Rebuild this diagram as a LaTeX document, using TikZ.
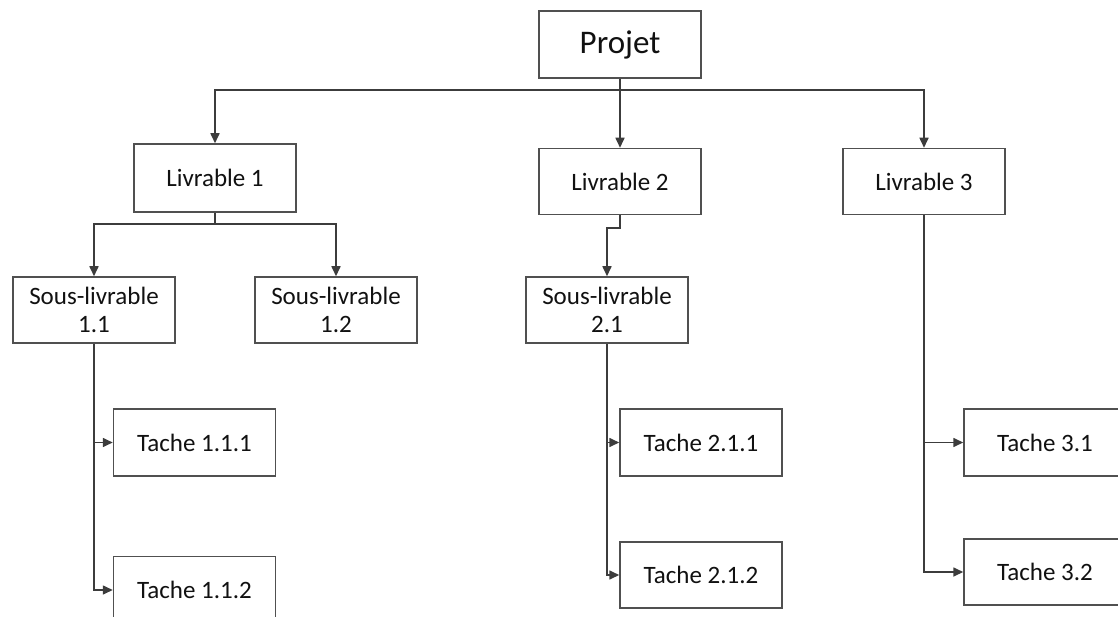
\documentclass[tikz,border=0pt]{standalone}
\usepackage{fontspec}
\setmainfont{Carlito}
\usetikzlibrary{arrows.meta}

\definecolor{edgegray}{HTML}{505050}
\definecolor{linegray}{HTML}{3C3C3C}
\definecolor{inkblack}{HTML}{111111}

\tikzset{
  box/.style={draw=edgegray, line width=1.5pt, fill=white, rectangle,
    minimum width=162pt, inner sep=0pt, text=inkblack,
    font=\fontsize{25}{28}\selectfont},
  topbox/.style={box, font=\fontsize{33}{36}\selectfont},
  wire/.style={draw=linegray, line width=1.6pt},
  link/.style={wire, -{Triangle[length=10pt,width=9pt]}}
}

\begin{document}
\begin{tikzpicture}[x=1pt, y=-1pt]
  \path[use as bounding box, clip] (0,0) rectangle (1118,617);
  \fill[white] (0,0) rectangle (1118,617);

  % root
  \node[topbox, minimum height=67pt] (proj) at (620,44.5) {Projet};

  % deliverables
  \node[box, minimum height=68pt] (liv1) at (215,178) {Livrable 1};
  \node[box, minimum height=66pt] (liv2) at (620,181.5) {Livrable 2};
  \node[box, minimum height=66pt] (liv3) at (924,181.5) {Livrable 3};

  % sub-deliverables
  \node[box, minimum height=66pt, align=center] (sl11) at (94,310) {Sous-livrable\\1.1};
  \node[box, minimum height=66pt, align=center] (sl12) at (336,310) {Sous-livrable\\1.2};
  \node[box, minimum height=66pt, align=center] (sl21) at (607,310) {Sous-livrable\\2.1};

  % tasks
  \node[box, minimum height=67pt] (t111) at (194.5,442.5) {Tache 1.1.1};
  \node[box, minimum height=67pt] (t112) at (194.5,590) {Tache 1.1.2};
  \node[box, minimum height=67pt] (t211) at (701,442.5) {Tache 2.1.1};
  \node[box, minimum height=66pt] (t212) at (701,575) {Tache 2.1.2};
  \node[box, minimum height=67pt] (t31) at (1045,442.5) {Tache 3.1};
  \node[box, minimum height=66pt] (t32) at (1045,572) {Tache 3.2};

  % bus lines
  \coordinate (bus0) at (0,90);
  \coordinate (bus1) at (0,224);
  \coordinate (bus2) at (0,228);

  % root to deliverables
  \draw[link] (proj.south) -- (liv2.north);
  \draw[link] (proj.south |- bus0) -| (liv1.north);
  \draw[link] (proj.south |- bus0) -| (liv3.north);

  % deliverable 1 to its sub-deliverables
  \draw[wire] (liv1.south) -- (liv1.south |- bus1);
  \draw[link] (liv1.south |- bus1) -| (sl11.north);
  \draw[link] (liv1.south |- bus1) -| (sl12.north);

  % deliverable 2 to its sub-deliverable
  \draw[link] (liv2.south) -- (liv2.south |- bus2) -| (sl21.north);

  % sub-deliverables to tasks
  \draw[wire] (sl11.south) -- (sl11.south |- t111.west);
  \draw[link] (sl11.south |- t111.west) -- (t111.west);
  \draw[link] (sl11.south |- t111.west) |- (t112.west);
  \draw[wire] (sl21.south) -- (sl21.south |- t211.west);
  \draw[link] (sl21.south |- t211.west) -- (t211.west);
  \draw[link] (sl21.south |- t211.west) |- (t212.west);

  % deliverable 3 to tasks
  \draw[wire] (liv3.south) -- (liv3.south |- t31.west);
  \draw[link] (liv3.south |- t31.west) -- (t31.west);
  \draw[link] (liv3.south |- t31.west) |- (t32.west);
\end{tikzpicture}
\end{document}
